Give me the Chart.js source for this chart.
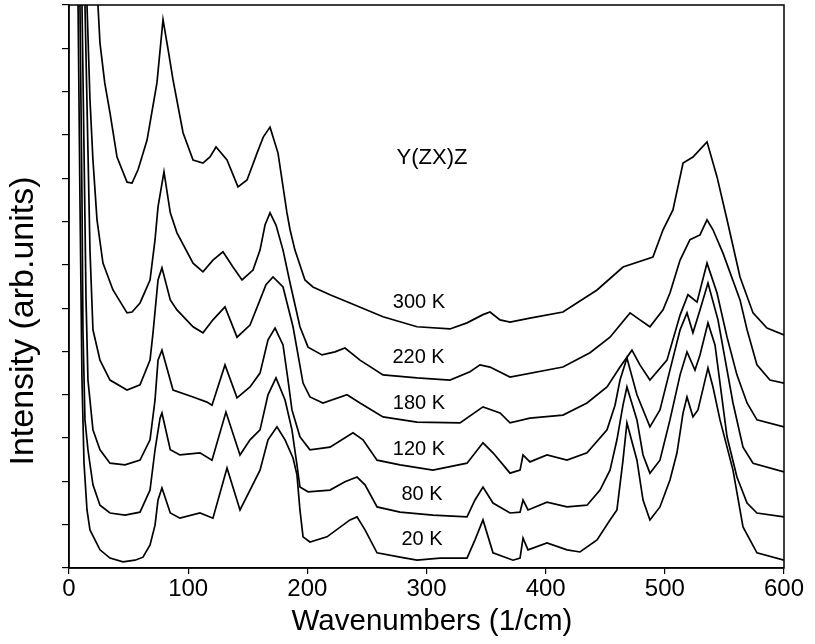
<!DOCTYPE html>
<html>
<head>
<meta charset="utf-8">
<title>Y(ZX)Z Raman spectra</title>
<script src="https://cdn.jsdelivr.net/npm/chart.js@4.4.1/dist/chart.umd.min.js"></script>
<style>
    html, body { margin: 0; padding: 0; background: #fff; }
    canvas { display: block; }
</style>
</head>
<body>
<canvas id="raman-chart" width="815" height="644"></canvas>
<script>
// Spectra for each temperature, offset vertically (arb. units)
const wn300 = [22, 24.3, 26.0, 30, 34.4, 40.3, 48.7, 52.9, 58, 65.5, 73.8, 78.9, 83, 87.3, 95.7, 104.1, 112.4, 118.3, 123.4, 132.6, 141.8, 149.4, 157.8, 163, 168.7, 175.4, 182.9, 185.5, 189.6, 198.0, 204.7, 219.0, 235.8, 263.5, 292.0, 319.7, 334.0, 347.4, 353.3, 361.7, 370.1, 386.8, 414.5, 443.1, 464.9, 490.0, 498.5, 506.8, 515.3, 523.6, 535.4, 543.8, 552.2, 563.1, 574.0, 585.7, 600];
const int300 = [14, 13.0, 12.12, 11.2, 10.51, 9.49, 8.91, 8.89, 9.2, 9.88, 11.2, 12.66, 12.0, 11.27, 10.05, 9.42, 9.35, 9.49, 9.72, 9.42, 8.80, 8.96, 9.58, 9.95, 10.18, 9.58, 8.20, 7.81, 7.34, 6.65, 6.49, 6.31, 6.12, 5.80, 5.57, 5.52, 5.66, 5.85, 5.91, 5.73, 5.68, 5.77, 5.91, 6.42, 6.95, 7.18, 7.81, 8.27, 9.35, 9.49, 9.84, 9.03, 8.04, 6.72, 5.89, 5.54, 5.38];

const wn220 = [13, 15.1, 17.6, 20.1, 23.5, 28.5, 36.9, 48.7, 52.9, 59.6, 68.0, 72.2, 74.7, 79.7, 85.0, 90.6, 104.1, 112.4, 120.8, 129.2, 137.6, 145.2, 154.4, 160.3, 164.5, 168.7, 173.7, 179.6, 185.5, 193.8, 200.6, 212.3, 223.2, 231.6, 244.2, 263.5, 292.0, 319.7, 336.5, 344.9, 353.3, 370.1, 414.5, 437.2, 454.0, 470.8, 479.1, 487.5, 498.5, 504.3, 512.8, 521.1, 529.5, 535.4, 540.4, 548.8, 563.1, 569.0, 577.3, 588.2, 600];
const int220 = [14, 13.0, 10.81, 9.42, 8.04, 7.04, 6.42, 5.89, 5.91, 6.12, 6.65, 7.58, 8.34, 9.15, 8.20, 7.74, 7.04, 6.84, 7.11, 7.30, 6.95, 6.65, 6.88, 7.34, 7.92, 8.20, 7.92, 7.34, 6.58, 5.57, 5.10, 4.92, 4.99, 5.08, 4.80, 4.46, 4.39, 4.34, 4.53, 4.69, 4.64, 4.41, 4.64, 4.97, 5.33, 5.89, 5.73, 5.57, 5.96, 6.35, 7.11, 7.58, 7.69, 8.04, 7.81, 7.27, 6.19, 5.50, 4.69, 4.34, 4.27];

const wn180 = [11, 13.4, 15.9, 17.6, 20.1, 26.0, 34.4, 48.7, 59.6, 68.0, 70.5, 74.7, 78.0, 85.0, 90.6, 104.1, 112.4, 120.8, 130.9, 141.0, 151.9, 160.3, 165.3, 171.2, 179.6, 188.0, 196.4, 202.2, 213.1, 233.3, 244.2, 263.5, 292.0, 328.1, 347.4, 361.7, 370.1, 386.8, 414.5, 434.7, 451.5, 462.4, 472.4, 479.1, 487.5, 501.8, 512.8, 519.4, 527.0, 535.4, 543.8, 552.2, 560.5, 569.0, 577.3, 600];
const int180 = [14, 13.0, 9.65, 7.34, 5.50, 4.80, 4.34, 4.11, 4.23, 4.80, 5.43, 6.65, 6.93, 6.19, 5.96, 5.57, 5.43, 5.73, 6.03, 5.33, 5.61, 6.19, 6.54, 6.72, 6.49, 5.57, 4.27, 3.95, 3.81, 4.00, 3.81, 3.49, 3.37, 3.35, 3.72, 3.58, 3.35, 3.46, 3.53, 3.81, 4.18, 4.64, 5.03, 4.69, 4.34, 4.80, 5.84, 6.31, 6.14, 7.04, 6.35, 5.33, 4.46, 3.81, 3.42, 3.26];

const wn120 = [9.5, 10.9, 12.6, 14.3, 15.9, 20.1, 26.0, 34.4, 47.0, 59.6, 68.0, 72.2, 74.7, 78.0, 87.3, 104.1, 115.8, 120.0, 130.9, 141.0, 151.9, 160.3, 167.0, 172.9, 179.6, 183.8, 187.1, 193.8, 202.2, 219.0, 238.3, 246.7, 258.5, 277.8, 305.4, 334.0, 347.4, 355.8, 370.1, 378.5, 381.0, 386.8, 401.1, 417.9, 434.7, 451.5, 458.2, 462.4, 468.2, 476.6, 487.5, 495.9, 504.3, 512.8, 518.6, 523.6, 529.5, 536.2, 544.6, 557.2, 565.6, 574.0, 600];
const int120 = [14, 13.0, 9.65, 6.19, 4.34, 3.19, 2.73, 2.42, 2.38, 2.49, 2.96, 3.88, 4.80, 5.03, 4.11, 3.95, 3.83, 3.76, 4.69, 3.93, 4.18, 4.50, 5.27, 5.54, 5.15, 4.34, 3.65, 3.03, 2.73, 2.79, 3.12, 2.96, 2.49, 2.38, 2.26, 2.42, 2.89, 2.66, 2.19, 2.26, 2.61, 2.45, 2.61, 2.49, 2.66, 3.19, 3.76, 4.34, 4.85, 4.00, 3.26, 3.65, 4.57, 5.50, 5.89, 5.43, 5.96, 6.58, 5.73, 3.81, 2.79, 2.42, 2.22];

const wn80 = [8.5, 9.2, 10.9, 11.7, 13.4, 15.9, 20.1, 26.0, 34.4, 47.0, 59.6, 68.0, 72.2, 76.4, 78.0, 85.0, 93.1, 109.9, 120.0, 131.7, 143.5, 151.9, 160.3, 167.0, 173.7, 181.3, 187.1, 191.3, 193.8, 200.6, 219.0, 231.6, 241.7, 248.4, 258.5, 277.8, 305.4, 334.0, 340.7, 347.4, 355.8, 370.1, 378.5, 381.0, 385.2, 401.1, 417.9, 434.7, 445.6, 454.0, 459.8, 464.9, 468.2, 476.6, 481.7, 487.5, 495.9, 504.3, 512.8, 518.6, 525.3, 529.5, 536.2, 542.1, 552.2, 560.5, 569.0, 577.3, 600];
const int80 = [14, 13.0, 8.50, 5.50, 3.42, 2.73, 1.92, 1.45, 1.27, 1.22, 1.29, 1.80, 2.73, 3.46, 3.58, 2.73, 2.61, 2.66, 2.49, 3.60, 2.61, 2.96, 3.19, 4.00, 4.39, 3.88, 3.19, 2.38, 1.87, 1.76, 1.80, 1.99, 2.10, 1.92, 1.41, 1.29, 1.22, 1.18, 1.57, 1.87, 1.50, 1.27, 1.29, 1.57, 1.34, 1.52, 1.41, 1.45, 1.80, 2.26, 2.96, 3.76, 4.18, 3.42, 2.61, 2.19, 2.49, 3.42, 4.46, 4.99, 4.57, 4.92, 5.66, 5.15, 3.03, 2.10, 1.50, 1.27, 1.18];

const wn20 = [6.5, 7.6, 9.2, 10.9, 12.6, 15.1, 17.6, 26.0, 34.4, 45.3, 55.4, 62.1, 68.0, 72.2, 74.7, 78.0, 85.0, 93.1, 109.9, 120.8, 132.6, 143.5, 151.9, 160.3, 167.0, 174.5, 181.3, 188.0, 191.3, 193.8, 196.4, 202.2, 216.5, 235.8, 241.7, 248.4, 258.5, 277.8, 292.0, 311.3, 334.0, 340.7, 347.4, 355.8, 372.6, 378.5, 381.0, 385.2, 401.1, 417.9, 428.8, 443.1, 454.0, 459.8, 464.9, 468.2, 476.6, 481.7, 487.5, 495.9, 504.3, 510.2, 515.3, 518.6, 523.6, 527.8, 536.2, 540.4, 546.3, 557.2, 565.6, 577.3, 600];
const int20 = [14, 13.0, 8.50, 4.34, 2.42, 1.34, 0.88, 0.42, 0.23, 0.14, 0.18, 0.25, 0.53, 0.99, 1.57, 1.85, 1.27, 1.15, 1.27, 1.15, 2.31, 1.34, 1.80, 2.26, 2.96, 3.26, 2.96, 2.54, 2.15, 1.34, 0.72, 0.60, 0.72, 1.11, 1.18, 0.88, 0.35, 0.25, 0.18, 0.23, 0.23, 0.65, 1.11, 0.35, 0.18, 0.23, 0.69, 0.42, 0.58, 0.42, 0.37, 0.65, 1.11, 1.34, 2.49, 3.35, 2.49, 1.57, 1.11, 1.41, 2.03, 2.66, 3.58, 3.95, 3.49, 3.65, 4.62, 4.18, 3.42, 2.26, 0.95, 0.35, 0.18];

const xTicks = [0, 100, 200, 300, 400, 500, 600];

// Temperature tags written next to each trace, plus the geometry label
const curveLabels = ['300 K', '220 K', '180 K', '120 K', '80 K', '20 K', 'Y(ZX)Z'];
const labelWn = [293.7, 293.3, 293.7, 293.7, 296.2, 296.2, 304.6];
const labelInt = [6.12, 4.87, 3.80, 2.73, 1.69, 0.65, 9.47];

const FONT = '"Liberation Sans", Arial, Helvetica, sans-serif';

const toPoints = (xs, ys) => xs.map((x, i) => ({ x: x, y: ys[i] }));

const series = [
    toPoints(wn300, int300),
    toPoints(wn220, int220),
    toPoints(wn180, int180),
    toPoints(wn120, int120),
    toPoints(wn80, int80),
    toPoints(wn20, int20)
];

// frame, curve tags and axis titles
const decorations = {
    id: 'decorations',
    afterDraw(chart) {
        const { ctx, chartArea, scales } = chart;
        ctx.save();
        ctx.strokeStyle = '#000';
        ctx.lineWidth = 1.5;
        ctx.strokeRect(chartArea.left, chartArea.top, chartArea.right - chartArea.left, chartArea.bottom - chartArea.top);

        ctx.fillStyle = '#000';
        ctx.textAlign = 'center';
        ctx.textBaseline = 'middle';
        curveLabels.forEach((text, i) => {
            ctx.font = (i === 6 ? '22px ' : '20px ') + FONT;
            ctx.fillText(text, scales.x.getPixelForValue(labelWn[i]), scales.y.getPixelForValue(labelInt[i]));
        });

        ctx.font = '29.5px ' + FONT;
        ctx.fillText('Wavenumbers (1/cm)', 432, 622);

        ctx.translate(24, 321);
        ctx.rotate(-Math.PI / 2);
        ctx.font = '34px ' + FONT;
        ctx.fillText('Intensity (arb.units)', 0, 0);
        ctx.restore();
    }
};

document.addEventListener('DOMContentLoaded', () => {
    const ramanChart = new Chart(document.getElementById('raman-chart').getContext('2d'), {
        type: 'line',
        data: {
            datasets: series.map((pts, i) => ({
                label: curveLabels[i],
                data: pts,
                borderColor: '#000',
                borderWidth: 1.7,
                pointRadius: 0,
                tension: 0,
                fill: false
            }))
        },
        options: {
            responsive: false,
            animation: false,
            layout: { padding: { left: 0, top: 5, right: 31, bottom: 0 } },
            plugins: {
                legend: { display: false },
                tooltip: { enabled: false }
            },
            scales: {
                x: {
                    type: 'linear',
                    min: 0,
                    max: 600,
                    afterBuildTicks: (scale) => {
                        scale.ticks = xTicks.map(v => ({ value: v }));
                    },
                    afterFit: (scale) => { scale.height = 76; },
                    border: { display: true, color: '#000', width: 1.5 },
                    grid: { drawOnChartArea: false, drawTicks: true, tickLength: 6, color: '#000', lineWidth: 1.2 },
                    ticks: { color: '#000', padding: 1, maxRotation: 0, font: { family: FONT, size: 24 } }
                },
                y: {
                    type: 'linear',
                    min: 0,
                    max: 13,
                    afterFit: (scale) => { scale.width = 69; },
                    border: { display: true, color: '#000', width: 1.5 },
                    grid: { drawOnChartArea: false, drawTicks: true, tickLength: 7, color: '#000', lineWidth: 1.2 },
                    ticks: { stepSize: 1, display: false }
                }
            }
        },
        plugins: [decorations]
    });
});
</script>
</body>
</html>
